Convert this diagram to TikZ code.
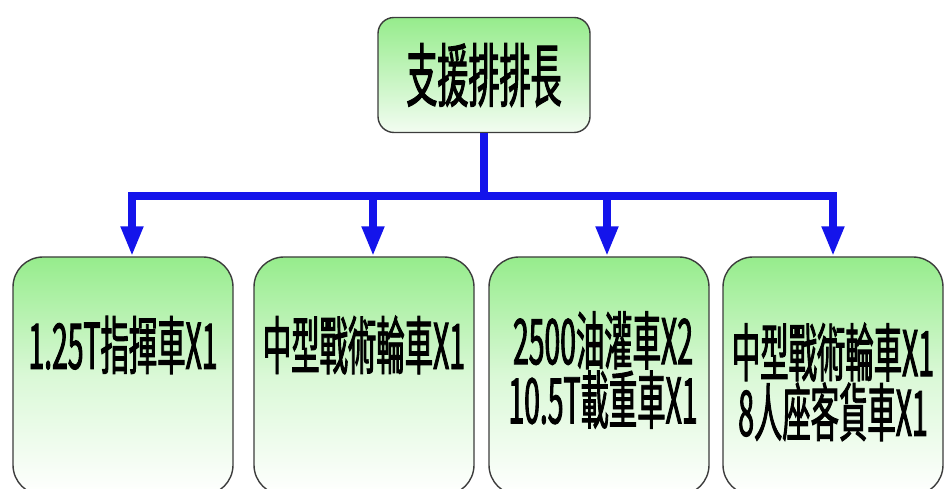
\documentclass[tikz,border=0pt]{standalone}
\usepackage{fontspec}
\newfontfamily\tcfont[FakeStretch=0.45,FakeBold=1.4]{Noto Sans CJK TC}
\usetikzlibrary{arrows.meta}
\definecolor{verdeclaro}{RGB}{150,236,140}
\definecolor{azul}{RGB}{20,20,235}
\definecolor{borda}{RGB}{60,60,60}
\tikzset{
  chefe/.style={draw=borda,line width=1.4pt,rounded corners=16pt,minimum width=212pt,minimum height=115pt,inner sep=0pt,
    top color=verdeclaro,bottom color=verdeclaro!12,font=\tcfont\fontsize{69}{69}\selectfont},
  viatura/.style={draw=borda,line width=1.4pt,rounded corners=30pt,minimum width=220pt,minimum height=238pt,inner sep=0pt,
    top color=verdeclaro,bottom color=white,middle color=verdeclaro!35},
  rotulo/.style={inner sep=0pt,align=center,font=\tcfont\fontsize{63}{53}\selectfont},
  barra/.style={azul,line width=8pt},
  seta/.style={barra,-{Triangle[width=21pt,length=30pt]}}
}
\begin{document}
\begin{tikzpicture}[x=1pt,y=1pt]
\useasboundingbox (0,0) rectangle (946,489);
%caixas
  \node[chefe] (chefe) at (484,414) {支援排排長};
  \node[viatura] (v1) at (123,113) {};
  \node[viatura] (v2) at (364,113) {};
  \node[viatura] (v3) at (599,113) {};
  \node[viatura] (v4) at (833,113) {};

%textos
  \node[rotulo] (t1) at (123,144) {1.25T指揮車X1};
  \node[rotulo] (t2) at (364,144) {中型戰術輪車X1};
  \node[rotulo] (t3) at (603,119) {2500油灌車X2\\10.5T載重車X1};
  \node[rotulo] (t4) at (833,107) {中型戰術輪車X1\\8人座客貨車X1};

%ligacoes
  \coordinate (nivel) at (0,293);
  \coordinate (meio) at (chefe.south |- nivel);
  \draw[barra] (chefe.south) -- (meio);
  \draw[seta] (meio) -| ([xshift=9pt]v1.north);
  \draw[seta] (meio) -| ([xshift=9pt]v2.north);
  \draw[seta] (meio) -| ([xshift=8pt]v3.north);
  \draw[seta] (meio) -| (v4.north);
\end{tikzpicture}
\end{document}
